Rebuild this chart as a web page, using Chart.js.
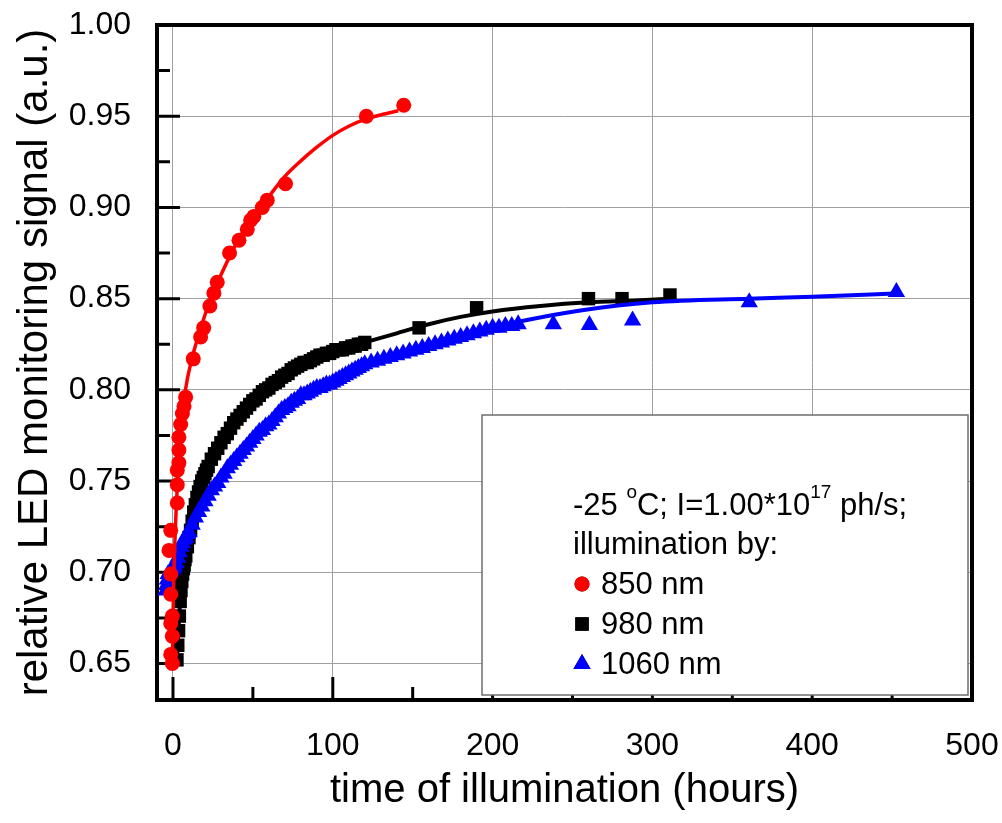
<!DOCTYPE html>
<html>
<head>
<meta charset="utf-8">
<title>relative LED monitoring signal</title>
<script src="https://cdn.jsdelivr.net/npm/chart.js@4/dist/chart.umd.min.js"></script>
<style>
  html, body { margin: 0; padding: 0; background: #fff; }
  #grafico { display: block; }
</style>
</head>
<body>
<canvas id="grafico" width="1002" height="823"></canvas>
<script>
// valori delle tacche sugli assi
var xTicks = [0, 100, 200, 300, 400, 500];
var yTicks = [0.65, 0.70, 0.75, 0.80, 0.85, 0.90, 0.95, 1.00];

// 850 nm - punti misurati (ore, segnale)
var t850 = [-0.4, -1.4, -0.4, -1.4, -0.4, -1.4, -1.4, -2.5, -1.4, 2.7, 2.7, 2.7, 3.7, 3.7, 3.7, 4.8, 5.9, 6.9, 7.9, 12.7, 17.3, 19.2, 23.1, 25.6, 27.7, 35.4, 41.3, 46.5, 48.6, 50.6, 55.9, 59, 70.4, 121, 144.4];
var s850 = [0.650, 0.655, 0.665, 0.672, 0.676, 0.688, 0.699, 0.712, 0.723, 0.738, 0.748, 0.756, 0.760, 0.767, 0.774, 0.781, 0.787, 0.791, 0.796, 0.817, 0.829, 0.834, 0.846, 0.853, 0.859, 0.875, 0.882, 0.888, 0.893, 0.895, 0.900, 0.904, 0.913, 0.950, 0.956];
// 850 nm - curva di fit
var t850fit = [-0.3, 0.3, 1, 2, 3, 4, 5, 6, 7, 9, 11, 13, 16, 20, 24, 30, 36, 42, 50, 60, 70, 80, 90, 100, 110, 121, 131, 141];
var s850fit = [0.652, 0.690, 0.712, 0.735, 0.752, 0.765, 0.777, 0.787, 0.795, 0.806, 0.814, 0.821, 0.830, 0.841, 0.851, 0.863, 0.874, 0.884, 0.895, 0.906, 0.917, 0.9255, 0.933, 0.9395, 0.9445, 0.9485, 0.951, 0.953];

// 980 nm - punti misurati
var t980 = [2.5, 3, 3.5, 4, 4.5, 5, 5.5, 6, 6.5, 7, 7.5, 8,
  9, 10, 11, 12, 13, 14, 15, 16, 17, 18, 19, 20, 21, 22,
  24, 26, 28, 30, 32, 34, 36, 38, 40, 42, 44, 46, 48, 50, 52, 54, 56, 58, 60, 62, 64, 66, 68, 70,
  72, 74, 76, 78, 80, 82, 84, 86, 88, 90, 92, 94, 96, 98, 100, 102, 104, 106, 108, 110, 112, 114, 116, 118, 120,
  154, 190, 260, 281, 311];
var s980 = [0.652, 0.660, 0.668, 0.676, 0.684, 0.690, 0.695, 0.699, 0.702, 0.704, 0.707, 0.709,
  0.714, 0.719, 0.723, 0.728, 0.733, 0.737, 0.741, 0.744, 0.747, 0.750, 0.752, 0.754, 0.756, 0.758,
  0.762, 0.765, 0.768, 0.771, 0.774, 0.776, 0.779, 0.782, 0.784, 0.786, 0.788, 0.790, 0.792, 0.794, 0.795, 0.797, 0.799, 0.800, 0.801, 0.803, 0.804, 0.805, 0.807, 0.808,
  0.809, 0.811, 0.812, 0.813, 0.814, 0.815, 0.815, 0.816, 0.817, 0.818, 0.819, 0.819, 0.820, 0.820, 0.821, 0.822, 0.822, 0.822, 0.823, 0.823, 0.824, 0.824, 0.825, 0.825, 0.826,
  0.834, 0.845, 0.850, 0.850, 0.852];
// 980 nm - curva di fit
var t980fit = [2.5, 3.5, 5, 7, 10, 14, 18, 25, 32, 40, 50, 60, 70, 80, 90, 100, 120, 140, 160, 180, 200, 230, 260, 290, 312];
var s980fit = [0.652, 0.670, 0.690, 0.705, 0.719, 0.737, 0.750, 0.763, 0.774, 0.784, 0.794, 0.801, 0.808, 0.814, 0.818, 0.821, 0.826, 0.831, 0.836, 0.840, 0.843, 0.846, 0.848, 0.849, 0.850];

// 1060 nm - punti misurati
var t1060 = [-4.5, -4, -3.5, -3, -2, -1, 0, 1, 2, 3, 4, 5, 6, 7, 8, 9,
  10, 12, 14, 16, 18, 20, 22, 24, 26, 28, 30, 32, 34, 36, 38, 40, 42, 44, 46, 48, 50, 52, 54, 56, 58, 60, 62, 64,
  66, 68, 70, 72, 74, 76, 78, 80, 82, 84, 86, 88, 90, 92, 94, 96, 98, 100, 102, 104, 106, 108, 110, 112, 114, 116, 118, 120,
  124, 128, 132, 136, 140, 144, 148, 152, 156, 160, 164, 168, 172, 176, 180, 184, 188, 192, 196, 200, 204, 208, 212, 216,
  238, 260.6, 287.6, 360.6, 452.7];
var s1060 = [0.690, 0.693, 0.696, 0.699, 0.700, 0.701, 0.702, 0.703, 0.705, 0.708, 0.711, 0.714, 0.716, 0.718, 0.719, 0.721,
  0.722, 0.726, 0.730, 0.733, 0.736, 0.739, 0.742, 0.745, 0.747, 0.749, 0.752, 0.754, 0.757, 0.759, 0.761, 0.763, 0.765, 0.767, 0.769, 0.771, 0.773, 0.775, 0.777, 0.778, 0.780, 0.781, 0.783, 0.785,
  0.787, 0.789, 0.790, 0.791, 0.793, 0.794, 0.795, 0.797, 0.797, 0.798, 0.799, 0.800, 0.801, 0.801, 0.802, 0.803, 0.803, 0.804, 0.805, 0.806, 0.807, 0.808, 0.809, 0.810, 0.811, 0.812, 0.813, 0.814,
  0.815, 0.816, 0.817, 0.818, 0.819, 0.820, 0.821, 0.822, 0.823, 0.824, 0.825, 0.826, 0.827, 0.828, 0.829, 0.830, 0.831, 0.832, 0.833, 0.834, 0.834, 0.835, 0.835, 0.836,
  0.836, 0.8355, 0.838, 0.848, 0.8537];
// 1060 nm - curva di fit
var t1060fit = [-3, 0, 5, 10, 20, 30, 40, 55, 70, 85, 100, 120, 140, 160, 180, 200, 220, 255, 300, 360, 400, 455];
var s1060fit = [0.695, 0.701, 0.714, 0.722, 0.739, 0.751, 0.763, 0.778, 0.790, 0.799, 0.804, 0.814, 0.819, 0.824, 0.829, 0.834, 0.838, 0.8435, 0.848, 0.850, 0.851, 0.853];

// etichette della legenda
var serie = ['850 nm', '980 nm', '1060 nm'];

var FONT = '"Liberation Sans", Arial, Helvetica, sans-serif';

function punti(xs, ys) {
  if (xs.length !== ys.length) console.log('lunghezze diverse', xs.length, ys.length);
  var out = [];
  for (var i = 0; i < xs.length; i++) {
    out.push({x: xs[i], y: ys[i]});
  }
  return out;
}

// tacche interne, cornice e riquadro della legenda
var cornice = {
  id: 'cornice',
  beforeDatasetsDraw: function(chart) {
    var ctx = chart.ctx;
    var area = chart.chartArea;
    var sx = chart.scales.x;
    var sy = chart.scales.y;
    ctx.save();
    ctx.strokeStyle = '#000';
    ctx.lineWidth = 3;
    ctx.beginPath();
    for (var i = 0; i < xTicks.length; i++) {
      var px = sx.getPixelForValue(xTicks[i]);
      ctx.moveTo(px, area.bottom);
      ctx.lineTo(px, area.bottom - 23);
      if (i < xTicks.length - 1) {
        var pm = sx.getPixelForValue((xTicks[i] + xTicks[i + 1]) / 2);
        ctx.moveTo(pm, area.bottom);
        ctx.lineTo(pm, area.bottom - 13);
      }
    }
    for (var j = 0; j < yTicks.length; j++) {
      var py = sy.getPixelForValue(yTicks[j]);
      ctx.moveTo(area.left, py);
      ctx.lineTo(area.left + 23, py);
      if (j < yTicks.length - 1) {
        var qm = sy.getPixelForValue((yTicks[j] + yTicks[j + 1]) / 2);
        ctx.moveTo(area.left, qm);
        ctx.lineTo(area.left + 13, qm);
      }
    }
    ctx.stroke();
    ctx.lineWidth = 4;
    ctx.strokeRect(area.left, area.top, area.right - area.left, area.bottom - area.top);
    ctx.restore();
  },
  afterDatasetsDraw: function(chart) {
    var ctx = chart.ctx;
    ctx.save();
    // riquadro
    ctx.fillStyle = '#fff';
    ctx.fillRect(482, 415, 486, 280);
    ctx.strokeStyle = '#6e6e6e';
    ctx.lineWidth = 1.5;
    ctx.strokeRect(482, 415, 486, 280);

    ctx.fillStyle = '#000';
    ctx.textBaseline = 'alphabetic';
    ctx.textAlign = 'left';
    var big = '31px ' + FONT;
    var small = '19px ' + FONT;
    var x = 573;
    var y = 515;
    function pezzo(txt, sup) {
      ctx.font = sup ? small : big;
      ctx.fillText(txt, x, sup ? y - 17 : y);
      x += ctx.measureText(txt).width;
    }
    pezzo('-25 ', false);
    pezzo('o', true);
    pezzo('C; I=1.00*10', false);
    pezzo('17', true);
    pezzo(' ph/s;', false);
    ctx.font = big;
    ctx.fillText('illumination by:', 573, 554);

    for (var k = 0; k < serie.length; k++) {
      var ds = null;
      chart.data.datasets.forEach(function(d) { if (d.label === serie[k]) ds = d; });
      var by = 594 + k * 40;
      Chart.helpers.drawPoint(ctx, {
        pointStyle: ds.pointStyle,
        radius: ds.pointRadius,
        borderWidth: 0
      }, 582, by - 10);
      ctx.fillStyle = ds.backgroundColor;
      ctx.fill();
      ctx.fillStyle = '#000';
      ctx.font = big;
      ctx.fillText(serie[k], 601, by);
    }
    ctx.restore();
  }
};

var ctx = document.getElementById('grafico');

var grafico = new Chart(ctx, {
  type: 'scatter',
  data: {
    datasets: [{
      label: '850 nm',
      data: punti(t850, s850),
      pointStyle: 'circle',
      pointRadius: 7.5,
      backgroundColor: '#ff0000',
      borderWidth: 0
    }, {
      label: 'fit 850',
      type: 'line',
      data: punti(t850fit, s850fit),
      borderColor: '#ff0000',
      borderWidth: 3.5,
      pointRadius: 0,
      cubicInterpolationMode: 'monotone',
      fill: false
    }, {
      label: '1060 nm',
      data: punti(t1060, s1060),
      pointStyle: 'triangle',
      pointRadius: 10,
      backgroundColor: '#0000ff',
      borderWidth: 0
    }, {
      label: 'fit 1060',
      type: 'line',
      data: punti(t1060fit, s1060fit),
      borderColor: '#0000ff',
      borderWidth: 4,
      pointRadius: 0,
      cubicInterpolationMode: 'monotone',
      fill: false
    }, {
      label: '980 nm',
      data: punti(t980, s980),
      pointStyle: 'rect',
      pointRadius: 9.5,
      backgroundColor: '#000000',
      borderWidth: 0
    }, {
      label: 'fit 980',
      type: 'line',
      data: punti(t980fit, s980fit),
      borderColor: '#000000',
      borderWidth: 4,
      pointRadius: 0,
      cubicInterpolationMode: 'monotone',
      fill: false
    }]
  },
  options: {
    responsive: false,
    animation: false,
    events: [],
    layout: { padding: { left: 0, top: 25, right: 30, bottom: 0 } },
    plugins: {
      legend: { display: false },
      tooltip: { enabled: false }
    },
    scales: {
      x: {
        type: 'linear',
        position: 'bottom',
        min: -10,
        max: 500,
        afterBuildTicks: function(scale) {
          scale.ticks = xTicks.map(function(v) { return {value: v}; });
        },
        afterFit: function(scale) {
          scale.height = 123;
          // niente margini extra per le etichette ai bordi
          scale.paddingLeft = 0;
          scale.paddingRight = 0;
        },
        grid: { color: '#a0a0a0', lineWidth: 1, drawTicks: false },
        border: { display: false },
        ticks: {
          color: '#000',
          padding: 27,
          maxRotation: 0,
          font: { family: FONT, size: 32 }
        },
        title: {
          display: true,
          text: 'time of illumination (hours)',
          color: '#000',
          font: { family: FONT, size: 40 },
          padding: { top: 0, bottom: 8 }
        }
      },
      y: {
        type: 'linear',
        min: 0.63,
        max: 1.0,
        afterBuildTicks: function(scale) {
          scale.ticks = yTicks.map(function(v) { return {value: v}; });
        },
        afterFit: function(scale) {
          scale.width = 157;
          scale.paddingTop = 0;
          scale.paddingBottom = 0;
        },
        grid: { color: '#a0a0a0', lineWidth: 1, drawTicks: false },
        border: { display: false },
        ticks: {
          color: '#000',
          padding: 26,
          font: { family: FONT, size: 32 },
          callback: function(v) { return v.toFixed(2); }
        },
        title: {
          display: true,
          text: 'relative LED monitoring signal (a.u.)',
          color: '#000',
          font: { family: FONT, size: 42 },
          padding: { top: 10, bottom: 0 }
        }
      }
    }
  },
  plugins: [cornice]
});

console.log('chart area', grafico.chartArea);
</script>
</body>
</html>
